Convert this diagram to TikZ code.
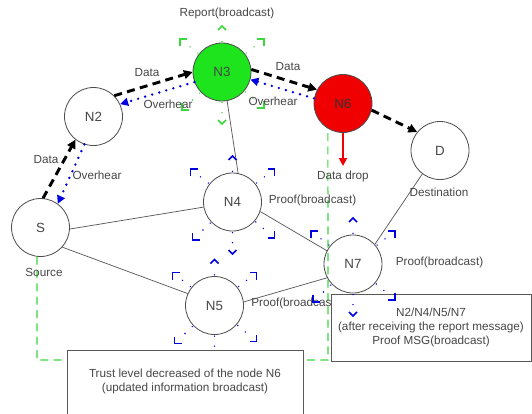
\documentclass[tikz,border=0pt]{standalone}
\usepackage{fontspec}
\setmainfont{Liberation Sans}
\usetikzlibrary{arrows.meta,calc}

\definecolor{nodegreen}{RGB}{30,228,30}
\definecolor{nodered}{RGB}{240,0,0}
\definecolor{markgreen}{RGB}{60,215,60}
\definecolor{markblue}{RGB}{0,0,225}
\definecolor{txtgray}{RGB}{70,70,70}

% six outward chevrons with dotted rays around a broadcasting node
\newcommand\bcastmarks[2]{%
  \foreach \dx/\dy/\ax/\ay/\bx/\by in
    {0/-46/-4/4/4/4, 0/52/-4/-4/4/-4,
     -42/-33/7/0/0/7, 42/-33/-7/0/0/7,
     -40/38/7/0/0/-7, 42/36/-7/0/0/-7}{
    \coordinate (bm) at ($(#1)+(\dx,\dy)$);
    \draw[bdot,#2] ($(#1)!23pt!(bm)$) -- ($(bm)!5pt!(#1)$);
    \draw[bchev,#2] ($(bm)+(\ax,\ay)$) -- (bm) -- ($(bm)+(\bx,\by)$);
  }}

\begin{document}
\begin{tikzpicture}[x=0.75pt,y=-0.75pt,
  lbl/.style={font=\fontsize{8.8}{10.5}\selectfont, text=txtgray, inner sep=0pt},
  nd/.style={circle, draw=black!70, line width=0.6pt, fill=white,
    minimum size=43.5pt, inner sep=0pt, font=\fontsize{10}{12}\selectfont, text=txtgray},
  link/.style={draw=black!65, line width=0.55pt},
  data/.style={draw=black, line width=2.2pt, dash pattern=on 6pt off 4pt,
    -{Triangle[length=6.5pt,width=6.5pt]}},
  over/.style={draw=markblue, line width=2pt, line cap=round,
    dash pattern=on 0pt off 5.5pt, -{Triangle[length=6pt,width=6pt]}},
  bdot/.style={line width=1.2pt, line cap=round, dash pattern=on 0pt off 7.5pt},
  bchev/.style={line width=1.3pt},
  trustpath/.style={draw=markgreen, line width=0.9pt, dash pattern=on 6pt off 4pt},
  boxnode/.style={draw=black!65, line width=0.7pt, fill=white},
]
\useasboundingbox (0,0) rectangle (532,414);

% nodes
\node[nd] (S)  at (40.5,227.5) {S};
\node[nd] (N2) at (93.5,116.5) {N2};
\node[nd, fill=nodegreen] (N3) at (222,72) {N3};
\node[nd, fill=nodered, text=black!80] (N6) at (343,103.5) {N6};
\node[nd] (D)  at (440,150.5) {D};
\node[nd] (N4) at (232.5,202) {N4};
\node[nd] (N7) at (353,264) {N7};
\node[nd] (N5) at (214.5,305.5) {N5};

% trust update path from the source to N6
\coordinate (gr) at (328,360);
\draw[trustpath] (S.263) |- (gr) -- (N6.239);

% plain links
\draw[link] (N3.280) -- (N4.79);
\draw[link] (S.-3) -- (N4.190);
\draw[link] (S.-42) -- (N5.156);
\draw[link] (N4.-19) -- (N7.153);
\draw[link] (N5.7) -- (N7.208);
\draw[link] (N7.42) -- (D.233);

% broadcast marks
\bcastmarks{N3}{markgreen}
\bcastmarks{N4}{markblue}
\bcastmarks{N5}{markblue}

% data forwarding
\draw[data] (S.85) -- (N2.232);
\draw[data] (N2.45) -- (N3.180);
\draw[data] (N3.5) -- (N6.152);
\draw[data] (N6.-13) -- (D.141);

% overhearing
\draw[over] (N3.200) -- (N2.25);
\draw[over] (N6.170) -- (N3.-15);
\draw[over] (N2.252) -- (S.54);

% dropped data
\coordinate (drop) at (343,166);
\draw[draw=nodered, line width=1.3pt, -{Triangle[length=6pt,width=6pt]}] (N6.south) -- (drop);

% labels
\node[lbl] (lreport) at (227,13) {Report(broadcast)};
\node[lbl] (ld1) at (147,73) {Data};
\node[lbl] (lo1) at (168,104) {Overhear};
\node[lbl] (ld2) at (46,160) {Data};
\node[lbl] (lo2) at (97,175) {Overhear};
\node[lbl] (ld3) at (288,67) {Data};
\node[lbl] (lo3) at (273,101) {Overhear};
\node[lbl] (ldrop) at (343,176) {Data drop};
\node[lbl] (ldest) at (439,192) {Destination};
\node[lbl] (lsrc) at (44,272) {Source};
\node[lbl] (lp4) at (312.5,200) {Proof(broadcast)};
\node[lbl] (lp7) at (439.5,262) {Proof(broadcast)};
\node[lbl, anchor=west] (lp5) at (251,303) {Proof(broadcast)};

% message boxes
\draw[boxnode] (67,350) rectangle (303,420);
\node[lbl, align=center] (trusttext) at (185,381)
  {Trust level decreased of the node N6\\(updated information broadcast)};
\node[boxnode, lbl, inner sep=0pt, minimum width=150pt, minimum height=50.25pt,
  align=center] (proofbox) at (431,327.5)
  {N2/N4/N5/N7\\(after receiving the report message)\\Proof MSG(broadcast)};

\bcastmarks{N7}{markblue}
\end{tikzpicture}
\end{document}
